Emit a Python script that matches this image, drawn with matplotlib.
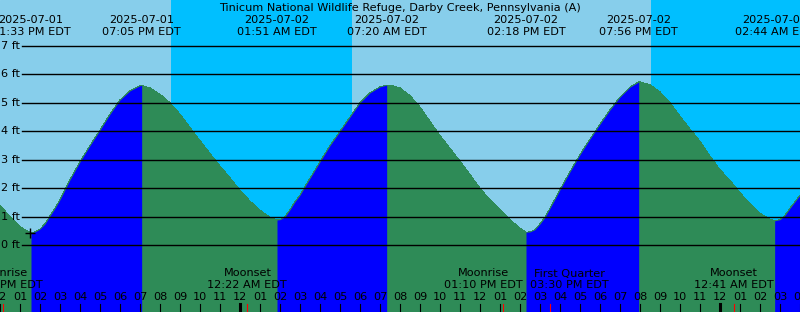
import matplotlib
matplotlib.use('Agg')
import matplotlib.pyplot as plt
import numpy as np


# hours since 2025-07-01 00:00 EDT
t_start = 12.0
t_end = 52.0

title = 'Tinicum National Wildlife Refuge, Darby Creek, Pennsylvania (A)'

# tide height read every half hour from 12:00 PM Jul 1
sample_step = 0.5
sample_ft = [1.41, 1.0, 0.65, 0.45, 0.57, 1.03, 1.6, 2.3, 2.93, 3.5,
             4.04, 4.6, 5.1, 5.42, 5.6, 5.52, 5.3, 5.0, 4.6, 4.13,
             3.67, 3.22, 2.78, 2.37, 1.93, 1.55, 1.23, 0.98, 0.9, 1.25,
             1.76, 2.35, 2.93, 3.5, 4.0, 4.5, 5.0, 5.35, 5.56, 5.62,
             5.52, 5.25, 4.85, 4.35, 3.85, 3.4, 2.95, 2.48, 2.0, 1.6,
             1.25, 0.9, 0.6, 0.47, 0.75, 1.3, 1.95, 2.58, 3.18, 3.73,
             4.25, 4.75, 5.2, 5.55, 5.73, 5.63, 5.38, 5.0, 4.53, 4.08,
             3.65, 3.13, 2.65, 2.28, 1.85, 1.45, 1.12, 0.92, 0.9, 1.3,
             1.76]

# extra readings around the low tides, where the curve bends fast
extra_hours = [13.75, 14.25, 14.75, 26.25, 26.75, 27.25,
               38.75, 39.25, 39.75, 51.25]
extra_ft = [0.47, 0.75, 1.3, 1.0, 1.53, 2.06,
            0.55, 0.98, 1.62, 1.05]

# high / low tides
ext_hours = [13.55, 19.083, 25.85, 31.333, 38.3, 43.933, 50.733]
ext_ft = [0.44, 5.61, 0.89, 5.62, 0.46, 5.73, 0.86]
ext_dates = ['2025-07-01', '2025-07-01', '2025-07-02', '2025-07-02',
             '2025-07-02', '2025-07-02', '2025-07-03']
ext_times = ['01:33 PM EDT', '07:05 PM EDT', '01:51 AM EDT', '07:20 AM EDT',
             '02:18 PM EDT', '07:56 PM EDT', '02:44 AM EDT']

# moon events
moon_hours = [12.15, 24.367, 37.167, 39.5, 48.683]
moon_names = ['Moonrise', 'Moonset', 'Moonrise', 'First Quarter', 'Moonset']
moon_times = ['12:09 PM EDT', '12:22 AM EDT', '01:10 PM EDT', '03:30 PM EDT',
              '12:41 AM EDT']

# night (sunset -> sunrise)
night_start = [20.55, 44.55]
night_end = [29.6, 52.0]

now_hour = 13.5
now_ft = 0.42

y_ticks = [0, 1, 2, 3, 4, 5, 6, 7]

W, H = 800, 312
px_per_hr = W / (t_end - t_start)
y_bottom, y_top = -2.34, 8.607

sky = '#87CEEB'
night = '#00BFFF'
falling = '#2E8B57'
rising = '#0000FF'

plt.rcParams['font.family'] = 'DejaVu Sans'
fs = 8.1

fig = plt.figure(figsize=(W / 100, H / 100), dpi=100)
ax = fig.add_axes([0, 0, 1, 1])
ax.set_xlim(t_start, t_end)
ax.set_ylim(y_bottom, y_top)
ax.axis('off')
ax.add_patch(plt.Rectangle((t_start, y_bottom), t_end - t_start, y_top - y_bottom,
                           color=sky, zorder=0))
for a, b in zip(night_start, night_end):
    ax.axvspan(a, b, color=night, zorder=0.5, lw=0)

# tide curve, coloured by rising / falling
hours = t_start + sample_step * np.arange(len(sample_ft))
all_t = np.concatenate([hours, extra_hours, ext_hours])
all_h = np.concatenate([sample_ft, extra_ft, ext_ft])
order = np.argsort(all_t)
all_t, all_h = all_t[order], all_h[order]

# whole curve in the falling colour, rising stretches painted over it
ax.fill_between(all_t, all_h, y_bottom - 1, color=falling, lw=0,
                antialiased=False, zorder=1)
bounds = [t_start] + ext_hours + [t_end]
for i in range(len(bounds) - 1):
    if i < len(ext_ft):
        up = ext_ft[i] > 3      # segment ends at a high
    else:
        up = ext_ft[-1] < 3
    if not up:
        continue
    m = (all_t >= bounds[i]) & (all_t <= bounds[i + 1])
    ax.fill_between(all_t[m], all_h[m], y_bottom - 1, color=rising,
                    lw=0, antialiased=False, zorder=1.2)


def ypix(py):
    return (H - py) / H


xt = ax.get_xaxis_transform()

# y grid + labels
for v in y_ticks:
    ax.axhline(v, xmin=22 / W, xmax=1, color='black', lw=1.0, zorder=2)
    ax.text(t_start + 0.03, v, '%d ft' % v, fontsize=fs, va='center', ha='left', zorder=3)

ax.plot([now_hour], [now_ft], marker='+', color='black', ms=7, mew=1, zorder=3)

ax.text(0.5, ypix(8), title, transform=ax.transAxes, fontsize=fs,
        ha='center', va='center', zorder=3)
for t, d, s in zip(ext_hours, ext_dates, ext_times):
    ax.text(t, ypix(20), d, transform=xt, fontsize=fs, ha='center', va='center', zorder=3)
    ax.text(t, ypix(32), s, transform=xt, fontsize=fs, ha='center', va='center', zorder=3)

# push apart moon labels that would overlap
label_w = 86 / px_per_hr
pos = list(moon_hours)
for i in range(len(pos) - 1):
    d = pos[i + 1] - pos[i]
    if d < label_w:
        pos[i] -= (label_w - d) / 2
        pos[i + 1] += (label_w - d) / 2

for t, lt, n, s in zip(moon_hours, pos, moon_names, moon_times):
    ax.text(lt, ypix(273.5), n, transform=xt, fontsize=fs, ha='center', va='center', zorder=3)
    ax.text(lt, ypix(285.5), s, transform=xt, fontsize=fs, ha='center', va='center', zorder=3)
    ax.plot([t, t], [ypix(304), ypix(312)], transform=xt, color='red', lw=0.8, zorder=3)

# hour ticks along the bottom
for hr in range(int(t_start), int(t_end) + 1):
    lab = '%02d' % ((hr - 1) % 12 + 1)
    ax.text(hr, ypix(297), lab, transform=xt, fontsize=fs, ha='center', va='center', zorder=3)
    lw = 2.2 if hr % 24 == 0 else 0.8
    ax.plot([hr, hr], [ypix(304), ypix(312)], transform=xt, color='black', lw=lw, zorder=3)

fig.savefig('out.png', dpi=100)
